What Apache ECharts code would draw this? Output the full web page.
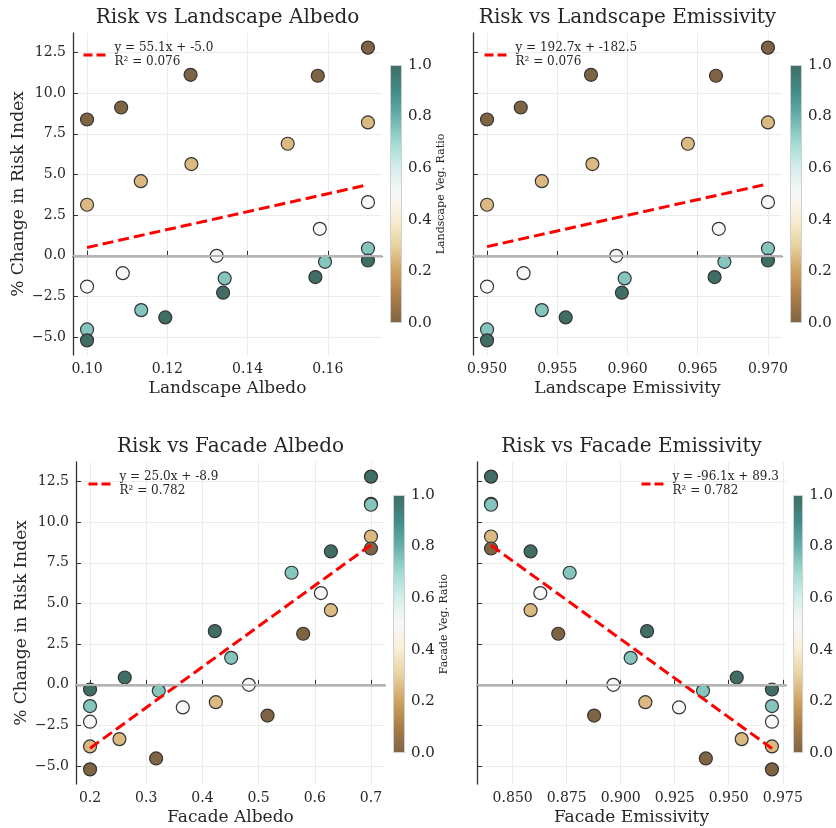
<!DOCTYPE html>
<html>
<head>
<meta charset="utf-8">
<script src="https://cdn.jsdelivr.net/npm/echarts@6/dist/echarts.min.js"></script>
<style>
  html, body { margin: 0; padding: 0; background: #fff; }
  #main { width: 836px; height: 828px; }
</style>
</head>
<body>
<div id="main"></div>
<script>
// values (25 runs)
var risk = [12.8, 11.13, 11.07, 9.12, 8.38, 8.2, 6.89, 5.64, 4.59, 3.14, 3.3, 1.66, 0, 0.45, -0.29,
            -0.37, -1.07, -1.39, -1.31, -1.89, -2.27, -3.34, -3.79, -4.53, -5.2];
var landAlbedo = [0.17, 0.1258, 0.1575, 0.1085, 0.10, 0.17, 0.15, 0.126, 0.1134, 0.10, 0.17, 0.158, 0.1323,
                  0.17, 0.17, 0.1593, 0.1089, 0.1343, 0.1569, 0.10, 0.1339, 0.1135, 0.1195, 0.10, 0.10];
var landEmiss = [0.970, 0.9574, 0.9663, 0.9524, 0.950, 0.970, 0.9643, 0.9575, 0.9539, 0.950, 0.970, 0.9665, 0.9592,
                 0.970, 0.970, 0.9669, 0.9526, 0.9598, 0.9662, 0.950, 0.9596, 0.9539, 0.9556, 0.950, 0.950];
var facAlbedo = [0.7, 0.7, 0.7, 0.7, 0.7, 0.6287, 0.5587, 0.6109, 0.6287, 0.5794, 0.4221, 0.4512, 0.4827,
                 0.2618, 0.2, 0.3223, 0.4239, 0.3651, 0.2, 0.5159, 0.2, 0.2523, 0.2, 0.3176, 0.2];
var facEmiss = [0.84, 0.84, 0.84, 0.84, 0.84, 0.8583, 0.8764, 0.8628, 0.8583, 0.8711, 0.9122, 0.9046, 0.8966,
                0.9537, 0.97, 0.9381, 0.9114, 0.9270, 0.97, 0.8877, 0.97, 0.9560, 0.97, 0.9394, 0.97];
var landVeg = [0, 0, 0, 0, 0, 0.25, 0.25, 0.25, 0.25, 0.25, 0.5, 0.5, 0.5, 0.75, 1,
               0.75, 0.5, 0.75, 1, 0.5, 1, 0.75, 1, 0.75, 1];
var facVeg = [1, 0.5, 0.75, 0.25, 0, 1, 0.75, 0.5, 0.25, 0, 1, 0.75, 0.5, 1, 1,
              0.75, 0.25, 0.5, 0.75, 0, 0.5, 0.25, 0.25, 0, 0];

// fits as printed in the legends
var fitSlope = [55.1, 192.7, 25.0, -96.1];
var fitIntercept = [-5.0, -182.5, -8.9, 89.3];
var fitR2 = [0.076, 0.076, 0.782, 0.782];

// tick labels
var riskTicks = [-5, -2.5, 0, 2.5, 5, 7.5, 10, 12.5];
var landAlbedoTicks = [0.10, 0.12, 0.14, 0.16];
var landEmissTicks = [0.950, 0.955, 0.960, 0.965, 0.970];
var facAlbedoTicks = [0.2, 0.3, 0.4, 0.5, 0.6, 0.7];
var facEmissTicks = [0.850, 0.875, 0.900, 0.925, 0.950, 0.975];
var cbTicks = [0, 0.2, 0.4, 0.6, 0.8, 1.0];

var FONT = 'DejaVu Serif';
var TXT = '#262626';

// BrBG, softened like alpha 0.75 over white
var brbg = ['#543005', '#8c510a', '#bf812d', '#dfc27d', '#f6e8c3', '#f5f5f5',
            '#c7eae5', '#80cdc1', '#35978f', '#01665e', '#003c30'];
function soften(hex) {
    var a = 0.75;
    var r = parseInt(hex.substr(1, 2), 16), g = parseInt(hex.substr(3, 2), 16), b = parseInt(hex.substr(5, 2), 16);
    return 'rgb(' + Math.round(r * a + 255 * (1 - a)) + ',' + Math.round(g * a + 255 * (1 - a)) + ',' + Math.round(b * a + 255 * (1 - a)) + ')';
}
var cmap = brbg.map(soften);

function padRange(arr) {
    var lo = Math.min.apply(null, arr), hi = Math.max.apply(null, arr);
    var m = (hi - lo) * 0.05;
    return [lo - m, hi + m];
}
var yRange = padRange(risk);

var panels = [
    {title: 'Risk vs Landscape Albedo', xName: 'Landscape Albedo', x: landAlbedo, veg: landVeg, ticks: landAlbedoTicks, dec: 2,
     left: 73, top: 33, cbLeft: 390, cbTop: 65, cbName: 'Landscape Veg. Ratio', lgLeft: 82, lgTop: 41, yLabel: true},
    {title: 'Risk vs Landscape Emissivity', xName: 'Landscape Emissivity', x: landEmiss, veg: landVeg, ticks: landEmissTicks, dec: 3,
     left: 473, top: 33, cbLeft: 790, cbTop: 65, cbName: '', lgLeft: 483, lgTop: 41, yLabel: false},
    {title: 'Risk vs Facade Albedo', xName: 'Facade Albedo', x: facAlbedo, veg: facVeg, ticks: facAlbedoTicks, dec: 1,
     left: 76, top: 462, cbLeft: 393, cbTop: 495, cbName: 'Facade Veg. Ratio', lgLeft: 87, lgTop: 470, yLabel: true},
    {title: 'Risk vs Facade Emissivity', xName: 'Facade Emissivity', x: facEmiss, veg: facVeg, ticks: facEmissTicks, dec: 3,
     left: 477, top: 462, cbLeft: 793, cbTop: 495, cbName: '', lgLeft: 640, lgTop: 470, yLabel: false}
];

var PW = 309, PH = 322, CBW = 12, CBH = 258;

var grid = [], xAxis = [], yAxis = [], series = [], legend = [], visualMap = [], graphic = [];

panels.forEach(function (p, i) {
    var xr = padRange(p.x);
    grid.push({left: p.left, top: p.top, width: PW, height: PH});
    xAxis.push({
        type: 'value', gridIndex: i, min: xr[0], max: xr[1],
        name: p.xName, nameLocation: 'middle', nameGap: 25,
        nameTextStyle: {fontFamily: FONT, fontSize: 17, color: TXT},
        axisLine: {show: true, lineStyle: {color: '#333', width: 1.3}},
        axisTick: {show: true, inside: true, length: 5, customValues: p.ticks, lineStyle: {color: '#333'}},
        axisLabel: {customValues: p.ticks, fontFamily: FONT, fontSize: 14, color: TXT, margin: 7,
            formatter: function (v) { return v.toFixed(p.dec); }},
        splitLine: {show: true, customValues: p.ticks, lineStyle: {color: '#ececec', width: 1}}
    });
    yAxis.push({
        type: 'value', gridIndex: i, min: yRange[0], max: yRange[1],
        name: p.yLabel ? '% Change in Risk Index' : '', nameLocation: 'middle', nameGap: 46, nameRotate: 90,
        nameTextStyle: {fontFamily: FONT, fontSize: 17, color: TXT},
        axisLine: {show: true, lineStyle: {color: '#333', width: 1.3}},
        axisTick: {show: true, inside: true, length: 5, customValues: riskTicks, lineStyle: {color: '#333'}},
        axisLabel: {show: p.yLabel, customValues: riskTicks, fontFamily: FONT, fontSize: 14, color: TXT, margin: 7,
            formatter: function (v) { return v.toFixed(1).replace('-', '\u2212'); }},
        splitLine: {show: true, customValues: riskTicks, lineStyle: {color: '#ececec', width: 1}}
    });

    var pts = p.x.map(function (xv, k) { return [xv, risk[k], p.veg[k]]; });
    var xlo = Math.min.apply(null, p.x), xhi = Math.max.apply(null, p.x);
    var fitName = 'y = ' + fitSlope[i].toFixed(1) + 'x + ' + fitIntercept[i].toFixed(1) + '\nR\u00b2 = ' + fitR2[i].toFixed(3);

    // zero reference line
    series.push({
        type: 'line', xAxisIndex: i, yAxisIndex: i, data: [], silent: true,
        markLine: {symbol: 'none', silent: true, label: {show: false},
            lineStyle: {color: '#b4b4b4', width: 2, type: 'solid'}, data: [{yAxis: 0}]},
        z: 1
    });
    series.push({
        type: 'scatter', xAxisIndex: i, yAxisIndex: i, data: pts, symbolSize: 13,
        itemStyle: {borderColor: '#333', borderWidth: 1.2, opacity: 1}, z: 3
    });
    series.push({
        name: fitName, type: 'line', xAxisIndex: i, yAxisIndex: i, symbol: 'none', showSymbol: false,
        data: [[xlo, fitSlope[i] * xlo + fitIntercept[i]], [xhi, fitSlope[i] * xhi + fitIntercept[i]]],
        lineStyle: {color: '#ff0000', width: 3, type: [11, 5]}, itemStyle: {color: '#ff0000'}, z: 4
    });
    legend.push({
        data: [fitName], left: p.lgLeft, top: p.lgTop, padding: 0, itemWidth: 26, itemHeight: 12, itemGap: 6,
        selectedMode: false,
        itemStyle: {opacity: 0},
        lineStyle: {color: '#ff0000', width: 3, type: [9, 4], opacity: 1},
        textStyle: {fontFamily: FONT, fontSize: 12, color: TXT, lineHeight: 14}
    });
    visualMap.push({
        type: 'continuous', show: false, min: 0, max: 1, dimension: 2,
        seriesIndex: series.length - 2, inRange: {color: cmap}
    });

    graphic.push({
        type: 'text', x: p.left + PW / 2, y: p.top - 15,
        style: {text: p.title, fontFamily: FONT, fontSize: 20, fill: TXT, align: 'center', verticalAlign: 'middle'}
    });
});

// colorbars as extra grids
var stops = cmap.map(function (c, k) { return {offset: k / (cmap.length - 1), color: c}; });
panels.forEach(function (p, i) {
    var gi = grid.length;
    grid.push({left: p.cbLeft, top: p.cbTop, width: CBW, height: CBH});
    xAxis.push({type: 'category', gridIndex: gi, data: ['cb'], show: false});
    yAxis.push({
        type: 'value', gridIndex: gi, position: 'right', min: cbTicks[0], max: cbTicks[cbTicks.length - 1], interval: 0.2,
        name: p.cbName, nameLocation: 'middle', nameRotate: 90, nameGap: 33,
        nameTextStyle: {fontFamily: FONT, fontSize: 11, color: TXT},
        axisLine: {show: false}, axisTick: {show: false}, splitLine: {show: false},
        axisLabel: {fontFamily: FONT, fontSize: 15, color: TXT, margin: 6,
            formatter: function (v) { return v.toFixed(1); }}
    });
    series.push({
        type: 'bar', xAxisIndex: gi, yAxisIndex: gi, data: [cbTicks[cbTicks.length - 1]], barWidth: '100%', silent: true,
        itemStyle: {color: new echarts.graphic.LinearGradient(0, 1, 0, 0, stops), borderColor: '#d0d0d0', borderWidth: 1}
    });
});

var chart = echarts.init(document.getElementById('main'));
chart.setOption({
    animation: false,
    backgroundColor: '#fff',
    grid: grid, xAxis: xAxis, yAxis: yAxis,
    legend: legend, visualMap: visualMap,
    graphic: graphic,
    series: series
});
</script>
</body>
</html>
